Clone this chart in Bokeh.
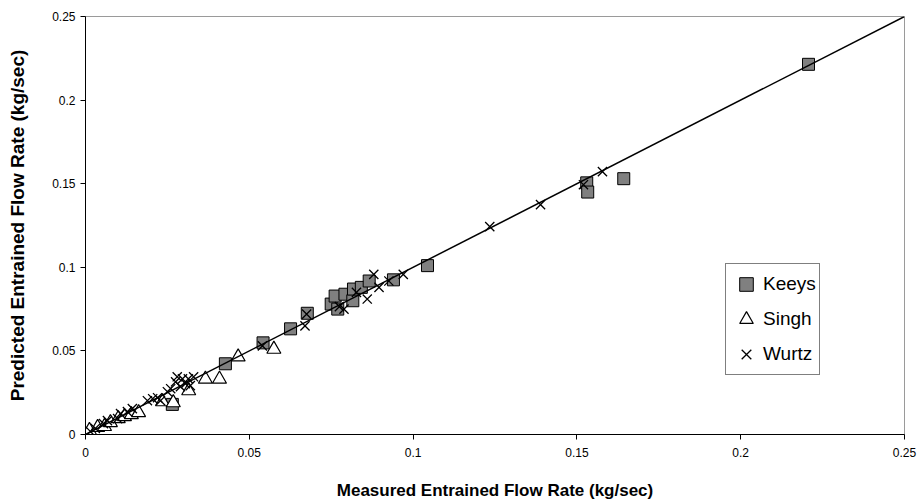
from bokeh.plotting import figure
from bokeh.models import (Range1d, FixedTicker, CustomJSTickFormatter, Legend, LegendItem)
from bokeh.embed import file_html
from bokeh.resources import INLINE

# ---- data ----
keeys_x = [0.0265, 0.0427, 0.0542, 0.0626, 0.0677, 0.0750, 0.0762, 0.0770, 0.0792, 0.0816,
           0.0818, 0.0842, 0.0866, 0.0940, 0.1044, 0.1530, 0.1533, 0.1643, 0.2207]
keeys_y = [0.0180, 0.0423, 0.0548, 0.0632, 0.0725, 0.0780, 0.0828, 0.0750, 0.0839, 0.0800,
           0.0870, 0.0880, 0.0918, 0.0925, 0.1010, 0.1505, 0.1450, 0.1530, 0.2214]

singh_x = [0.0012, 0.0037, 0.0058, 0.0076, 0.0100, 0.0119, 0.0140, 0.0162, 0.0235, 0.0268,
           0.0315, 0.0366, 0.0409, 0.0466, 0.0575]
singh_y = [0.0024, 0.0042, 0.0048, 0.0071, 0.0095, 0.0107, 0.0119, 0.0131, 0.0196, 0.0190,
           0.0262, 0.0331, 0.0331, 0.0464, 0.0510]

wurtz_x = [0.0015, 0.0030, 0.0055, 0.0067, 0.0098, 0.0107, 0.0128, 0.0143, 0.0189, 0.0205,
           0.0220, 0.0229, 0.0250, 0.0260, 0.0275, 0.0280, 0.0290, 0.0296, 0.0305, 0.0314,
           0.0320, 0.0330, 0.0540, 0.0670, 0.0675, 0.0775, 0.0789, 0.0827, 0.0860, 0.0880,
           0.0896, 0.0926, 0.0970, 0.1234, 0.1389, 0.1520, 0.1578]
wurtz_y = [0.0018, 0.0036, 0.0065, 0.0083, 0.0095, 0.0125, 0.0137, 0.0155, 0.0202, 0.0214,
           0.0220, 0.0202, 0.0256, 0.0274, 0.0315, 0.0345, 0.0286, 0.0333, 0.0304, 0.0333,
           0.0292, 0.0345, 0.0530, 0.0650, 0.0720, 0.0765, 0.0750, 0.0850, 0.0810, 0.0958,
           0.0880, 0.0918, 0.0958, 0.1243, 0.1375, 0.1494, 0.1572]

parity_line = [0.0, 0.25]
ticks = [0.0, 0.05, 0.10, 0.15, 0.20, 0.25]

FONT = "Liberation Sans"

p = figure(width=918, height=502, output_backend="svg", toolbar_location=None,
           x_range=Range1d(0, 0.25), y_range=Range1d(0, 0.25),
           min_border_left=85, min_border_right=14, min_border_top=16, min_border_bottom=66)
p.grid.visible = False
p.background_fill_color = "white"
p.border_fill_color = "white"
p.outline_line_color = "#9a9a9a"
p.outline_line_width = 1

fmt = CustomJSTickFormatter(code="return tick.toFixed(2).replace(/0+$/,'').replace(/\\.$/,'');")
for ax in (p.xaxis[0], p.yaxis[0]):
    ax.ticker = FixedTicker(ticks=ticks)
    ax.formatter = fmt
    ax.minor_tick_line_color = None
    ax.major_tick_in = 0
    ax.major_tick_out = 5
    ax.major_tick_line_color = "black"
    ax.axis_line_color = "black"
    ax.major_label_text_font = FONT
    ax.major_label_text_font_size = "12px"
    ax.major_label_text_color = "black"
    ax.axis_label_text_font = FONT
    ax.axis_label_text_font_style = "bold"
    ax.axis_label_text_color = "black"

p.xaxis.axis_label = "Measured Entrained Flow Rate (kg/sec)"
p.xaxis.axis_label_text_font_size = "17px"
p.xaxis.major_label_standoff = 8
p.xaxis.axis_label_standoff = 21

p.yaxis.axis_label = "Predicted Entrained Flow Rate (kg/sec)"
p.yaxis.axis_label_text_font_size = "19px"
p.yaxis.major_label_standoff = 5
p.yaxis.axis_label_standoff = 21

rk = p.scatter(keeys_x, keeys_y, marker="square", size=12, fill_color="#808080",
               line_color="black", line_width=1)
rs = p.scatter(singh_x, singh_y, marker="triangle", size=14, fill_color="white",
               line_color="black", line_width=1.2)
rw = p.scatter(wurtz_x, wurtz_y, marker="x", size=13, line_color="black", line_width=1.3)
p.line(parity_line, parity_line, line_color="black", line_width=1.5)

legend = Legend(items=[LegendItem(label="Keeys", renderers=[rk]),
                       LegendItem(label="Singh", renderers=[rs]),
                       LegendItem(label="Wurtz", renderers=[rw])],
                location=(640, 59), orientation="vertical")
legend.label_text_font = FONT
legend.label_text_font_size = "19px"
legend.label_text_color = "black"
legend.glyph_width = 34
legend.glyph_height = 34
legend.label_height = 34
legend.label_standoff = 0
legend.spacing = 1
legend.padding = 3
legend.margin = 0
legend.border_line_color = "black"
legend.border_line_width = 1
legend.background_fill_color = "white"
legend.background_fill_alpha = 1
p.add_layout(legend, "center")

open("out.html", "w").write(file_html(p, INLINE))
